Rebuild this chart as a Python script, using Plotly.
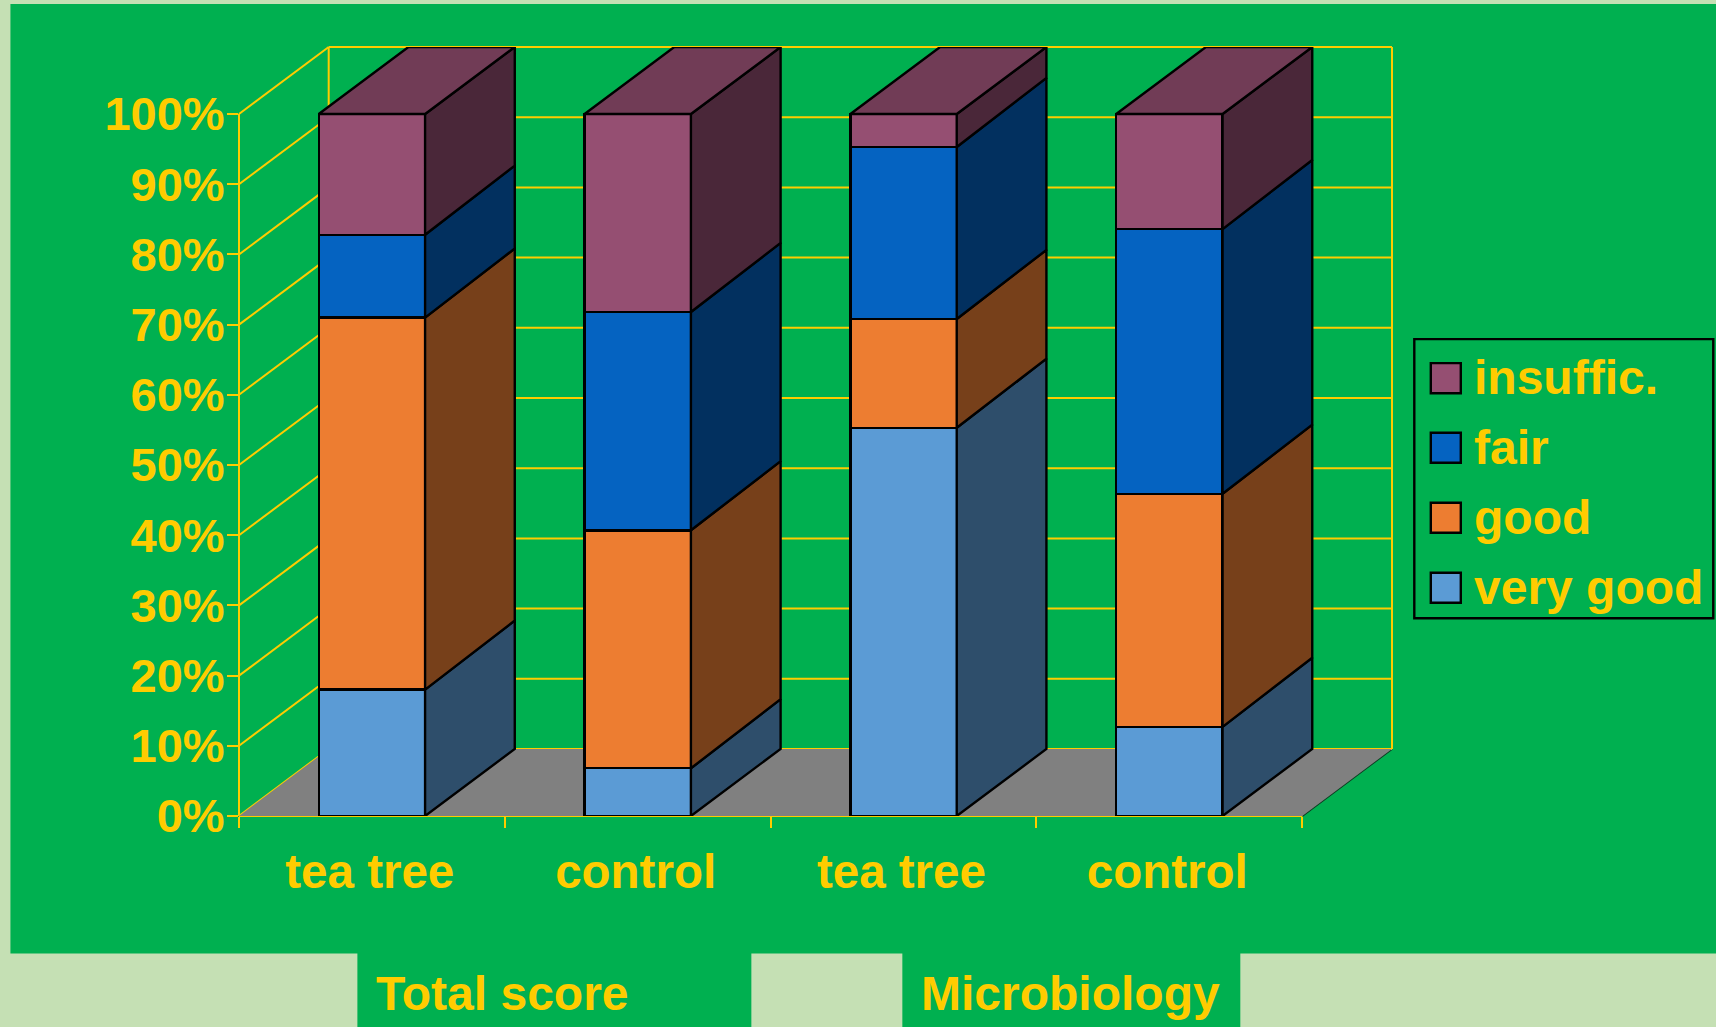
import plotly.graph_objects as go

# Stacked share of ratings per group, bottom to top
categories = ["tea tree", "control", "tea tree", "control"]
series_names = ["very good", "good", "fair", "insuffic."]
very_good = [18, 6.8, 55.3, 12.7]
good = [53, 33.9, 15.5, 33.2]
fair = [11.8, 31.1, 24.5, 37.7]
insuffic = [17.2, 28.2, 4.7, 16.4]
y_ticks = list(range(0, 101, 10))
group_labels = ["Total score", "Microbiology"]

series_values = [very_good, good, fair, insuffic]
front_colors = ["#5B9BD5", "#ED7D31", "#0563C1", "#954F72"]
side_colors = ["#2E4E6B", "#77401A", "#02305F", "#4A2739"]
top_color = "#713C56"

YELLOW = "#FFCC00"
GREEN = "#00B050"
PALE = "#C5E0B4"
FLOOR = "#808080"
FONT = "Liberation Sans"
W, H = 1716, 1027
EDGE = 2.4

# Plot area in pixels; the extra room right and above holds the 3D depth
left, right_front, bottom, top_front = 238.6, 1302.0, 815.6, 114.0
depth_px_x, depth_px_y = 89.7, 67.0
px_per_cat = (right_front - left) / len(categories)
px_per_pct = (bottom - top_front) / 100
dx = depth_px_x / px_per_cat
dy = depth_px_y / px_per_pct
inner_dy = dy + 0.3  # seams between segments rise slightly more than the outer edges
x_max = len(categories) + dx
y_max = 100 + dy
plot_w = right_front + depth_px_x - left
plot_h = bottom - top_front + depth_px_y
bar_w = 0.4


def px(x):
    return (x - left) / plot_w


def py(y):
    return (bottom - y) / plot_h


def rect(x0, y0, x1, y1, color, line=None, width=0):
    return dict(type="rect", xref="paper", yref="paper", layer="below",
                x0=px(x0), x1=px(x1), y0=py(y0), y1=py(y1), fillcolor=color,
                line=dict(color=line or color, width=width))


def seg(x0, y0, x1, y1, color=YELLOW, width=2):
    # Paper references keep wall edges on the plot border from being clipped
    return dict(type="line", xref="paper", yref="paper", layer="below",
                x0=x0 / x_max, y0=y0 / y_max, x1=x1 / x_max, y1=y1 / y_max,
                line=dict(color=color, width=width))


shapes = [
    rect(10, 4, W + 2, 953, GREEN),
    rect(357, 950, 751, H + 2, GREEN),
    rect(902, 950, 1240, H + 2, GREEN),
    dict(type="path", xref="x", yref="y", layer="below", fillcolor=FLOOR, line=dict(width=0),
         path=f"M0,0 L{len(categories)},0 L{x_max},{dy} L{dx},{dy} Z"),
    seg(len(categories), 0, x_max, dy, "#0B3B20", 1.8),
    seg(0, 0, 0, 100),
    seg(dx, dy, dx, y_max),
    seg(x_max, dy, x_max, y_max),
    seg(0, 0, len(categories), 0),
]
for v in y_ticks:
    shapes.append(seg(0, v, dx, v + dy))
    shapes.append(seg(dx, v + dy, x_max, v + dy))

# Legend frame and swatches
shapes.append(rect(1414, 339, 1713, 618, GREEN, "#000000", EDGE))
legend_rows = [378, 447.5, 517.5, 587.5]
annotations = []
text_font = dict(family=FONT, size=48, color=YELLOW, weight=700)
for row, name, color in zip(legend_rows, series_names[::-1], front_colors[::-1]):
    shapes.append(rect(1430.5, row - 15, 1460.5, row + 15, color, "#000000", EDGE))
    annotations.append(dict(xref="paper", yref="paper", x=px(1472), y=py(row - 0.5), text=name,
                            showarrow=False, xanchor="left", yanchor="middle", font=text_font))

for label, cx in zip(group_labels, [502, 1070.5]):
    annotations.append(dict(xref="paper", yref="paper", x=px(cx), y=py(993), text=label,
                            showarrow=False, xanchor="center", yanchor="middle", font=text_font))

fig = go.Figure()
centers = [i + 0.5 for i in range(len(categories))]

# Front faces
for name, values, color in zip(series_names, series_values, front_colors):
    fig.add_bar(x=centers, y=values, width=bar_w, name=name, showlegend=False,
                marker=dict(color=color, line=dict(color="#000000", width=EDGE)))

# Right-hand side faces, stacked from the same values
base = [0.0] * len(categories)
last = len(series_values) - 1
for s, (values, color) in enumerate(zip(series_values, side_colors)):
    xs, ys = [], []
    for i, v in enumerate(values):
        r = centers[i] + bar_w / 2
        lo, hi = base[i], base[i] + v
        rise_lo = dy if s == 0 else inner_dy
        rise_hi = dy if s == last else inner_dy
        xs += [r, r + dx, r + dx, r, r, None]
        ys += [lo, lo + rise_lo, hi + rise_hi, hi, lo, None]
        base[i] = hi
    fig.add_scatter(x=xs, y=ys, mode="lines", fill="toself", fillcolor=color, cliponaxis=False,
                    line=dict(color="#000000", width=EDGE), showlegend=False, hoverinfo="skip")

# Top faces
xs, ys = [], []
for i, total in enumerate(base):
    l, r = centers[i] - bar_w / 2, centers[i] + bar_w / 2
    xs += [l, l + dx, r + dx, r, l, None]
    ys += [total, total + dy, total + dy, total, total, None]
fig.add_scatter(x=xs, y=ys, mode="lines", fill="toself", fillcolor=top_color, cliponaxis=False,
                line=dict(color="#000000", width=EDGE), showlegend=False, hoverinfo="skip")

fig.update_layout(
    width=W, height=H, autosize=False, barmode="stack", showlegend=False,
    margin=dict(l=left, r=W - right_front - depth_px_x, t=top_front - depth_px_y, b=H - bottom, pad=0),
    paper_bgcolor=PALE, plot_bgcolor="rgba(0,0,0,0)",
    shapes=shapes, annotations=annotations,
    xaxis=dict(range=[0, x_max], showgrid=False, zeroline=False, showline=False,
               tickmode="array", tickvals=[c - 0.008 for c in centers], ticktext=categories, ticks="",
               ticklabelstandoff=23, tickfont=dict(text_font, size=47.5),
               minor=dict(tickmode="array", tickvals=list(range(len(categories) + 1)),
                          ticks="outside", ticklen=11, tickwidth=2, tickcolor=YELLOW, showgrid=False)),
    yaxis=dict(range=[0, y_max], showgrid=False, zeroline=False, showline=False,
               tickmode="array", tickvals=y_ticks, ticktext=[f"{v}%" for v in y_ticks],
               ticks="outside", ticklen=11, tickwidth=2, tickcolor=YELLOW,
               ticklabelstandoff=-7, tickfont=dict(text_font, size=47)),
)

fig.write_html("out.html", config=dict(displayModeBar=False))
